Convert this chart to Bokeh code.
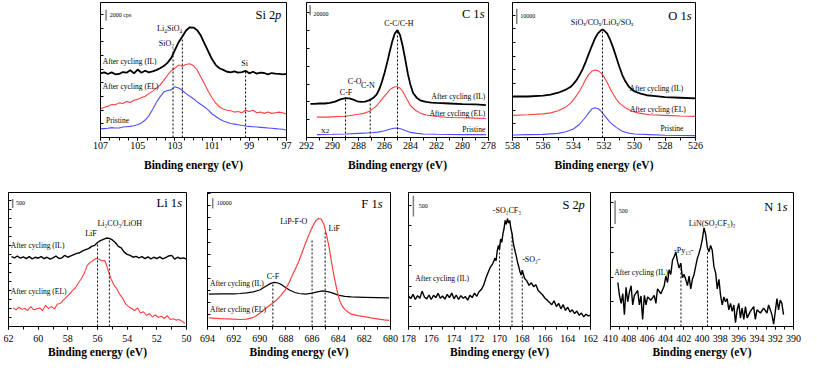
from bokeh.plotting import figure
from bokeh.layouts import column, row
from bokeh.models import Range1d, FixedTicker
from bokeh.core.properties import value
from bokeh.embed import file_html
from bokeh.resources import INLINE

FONT = "Liberation Serif"
BLACK = "#000000"
RED = "#ff4040"
BLUE = "#4f4fff"

# ---------------- data (binding energy in eV, intensity in arbitrary units) ----------------
SI_EV = [107.0, 106.8, 106.6, 106.4, 106.2, 106.0, 105.8, 105.6, 105.4, 105.2, 105.0, 104.8, 104.6,
         104.4, 104.2, 104.0, 103.8, 103.6, 103.4, 103.2, 103.0, 102.8, 102.6, 102.4, 102.2, 102.0,
         101.8, 101.6, 101.4, 101.2, 101.0, 100.8, 100.6, 100.4, 100.2, 100.0, 99.8, 99.6, 99.4,
         99.2, 99.0, 98.8, 98.6, 98.4, 98.2, 98.0, 97.8, 97.6, 97.4, 97.2, 97.0]
SI_IL = [202, 205, 200, 205, 199, 200, 206, 204, 212, 202, 214, 204, 210, 205, 208, 212, 218, 225,
         235, 250, 275, 300, 318, 337, 347, 346, 338, 320, 295, 270, 246, 228, 218, 213, 207, 205,
         208, 204, 206, 210, 202, 207, 201, 204, 203, 199, 203, 201, 200, 199, 200]
SI_EL = [90, 95, 98, 104, 103, 109, 107, 113, 110, 117, 120, 126, 130, 138, 146, 155, 165, 180, 196,
         210, 218, 228, 224, 230, 232, 226, 212, 190, 168, 145, 125, 108, 96, 90, 86, 84, 80, 82, 78,
         86, 82, 86, 78, 80, 76, 80, 76, 78, 80, 78, 73]
SI_PR = [28, 28, 29, 31, 30, 30, 33, 34, 35, 37, 40, 46, 55, 68, 88, 110, 128, 143, 148, 150, 160,
         156, 148, 138, 130, 122, 112, 104, 96, 86, 74, 66, 58, 52, 48, 44, 42, 40, 38, 36, 35, 34,
         33, 32, 31, 30, 29, 28, 27, 26, 23]
SI_PEAKS = [103.1, 102.6, 99.2]
SI_PEAK_TOPS = [280, 312, 208]

C_IL_EV = [291.7, 291.4, 291.0, 290.6, 290.2, 289.8, 289.4, 289.0, 288.7, 288.4, 288.1, 287.8, 287.5,
           287.2, 287.0, 286.8, 286.6, 286.4, 286.2, 286.0, 285.8, 285.6, 285.4, 285.2, 285.0, 284.8,
           284.6, 284.4, 284.2, 284.0, 283.8, 283.5, 283.2, 282.8, 282.4, 282.0, 281.0, 280.0, 279.0,
           278.2]
C_IL = [106, 106, 107, 107, 109, 113, 120, 124, 123, 119, 114, 112, 113, 117, 121, 127, 136, 152, 175,
        203, 235, 270, 303, 328, 338, 322, 288, 245, 200, 165, 140, 124, 116, 112, 110, 109, 107, 105,
        104, 102]
C_EL_EV = [291.2, 290.5, 290.0, 289.5, 289.0, 288.5, 288.0, 287.6, 287.2, 286.9, 286.6, 286.3, 286.0,
           285.8, 285.6, 285.4, 285.2, 285.0, 284.8, 284.6, 284.4, 284.2, 284.0, 283.6, 283.2, 282.8,
           282.0, 281.0, 280.0, 279.0, 278.2]
C_EL = [64, 64, 65, 66, 67, 70, 73, 76, 82, 90, 100, 115, 130, 140, 150, 156, 160, 160, 155, 145, 130,
        115, 100, 85, 76, 71, 66, 63, 62, 61, 60]
C_PR_EV = [291.2, 290.0, 289.0, 288.0, 287.0, 286.5, 286.0, 285.6, 285.3, 285.0, 284.7, 284.4, 284.0,
           283.5, 283.0, 282.0, 280.0, 278.2]
C_PR = [9, 10, 11, 13, 15, 17, 21, 26, 29, 30, 27, 22, 16, 13, 11, 10, 9, 9]
C_PEAKS = [289.0, 287.1, 285.0]
C_PEAK_TOPS = [126, 122, 336]

O_IL_EV = [538.0, 537.0, 536.0, 535.5, 535.0, 534.5, 534.2, 534.0, 533.8, 533.6, 533.4, 533.2, 533.0,
           532.8, 532.6, 532.4, 532.2, 532.1, 532.0, 531.8, 531.6, 531.4, 531.2, 531.0, 530.8, 530.6,
           530.4, 530.2, 530.0, 529.6, 529.2, 528.6, 528.0, 527.0, 526.0]
O_IL = [130, 130, 133, 136, 142, 152, 160, 170, 182, 198, 217, 240, 265, 290, 313, 330, 340, 342, 340,
        330, 310, 285, 255, 225, 198, 178, 163, 153, 146, 139, 134, 131, 128, 126, 124]
O_EL_EV = [538.0, 537.0, 536.0, 535.5, 535.0, 534.5, 534.2, 534.0, 533.8, 533.6, 533.4, 533.2, 533.0,
           532.8, 532.6, 532.4, 532.2, 532.0, 531.8, 531.6, 531.4, 531.2, 531.0, 530.6, 530.2, 529.8,
           529.0, 528.0, 527.0, 526.0]
O_EL = [70, 72, 75, 78, 85, 97, 108, 120, 133, 148, 165, 185, 200, 210, 214, 212, 205, 192, 175, 155,
        138, 122, 110, 94, 84, 78, 72, 70, 68, 67]
O_PR_EV = [538.0, 537.0, 536.0, 535.0, 534.5, 534.0, 533.6, 533.2, 533.0, 532.8, 532.6, 532.4, 532.2,
           532.0, 531.8, 531.6, 531.2, 530.8, 530.4, 530.0, 529.0, 528.0, 526.0]
O_PR = [8, 9, 10, 13, 18, 27, 42, 65, 78, 90, 94, 92, 84, 72, 60, 48, 32, 20, 14, 11, 9, 7, 6]
O_PEAKS = [532.1]
O_PEAK_TOPS = [342]

LI_IL_EV = [61.8, 61.6, 61.4, 61.2, 61.0, 60.8, 60.6, 60.4, 60.2, 60.0, 59.8, 59.6, 59.4, 59.2, 59.0,
            58.8, 58.6, 58.4, 58.2, 58.0, 57.8, 57.6, 57.4, 57.2, 57.0, 56.8, 56.6, 56.4, 56.2, 56.0,
            55.8, 55.6, 55.4, 55.2, 55.0, 54.8, 54.6, 54.4, 54.2, 54.0, 53.8, 53.6, 53.4, 53.2, 53.0,
            52.8, 52.6, 52.4, 52.2, 52.0, 51.8, 51.6, 51.4, 51.2, 51.0, 50.8, 50.6, 50.4, 50.2, 50.0]
LI_IL = [218, 214, 220, 213, 217, 212, 218, 211, 216, 213, 218, 212, 216, 210, 214, 220, 212, 214, 222,
         216, 220, 224, 228, 230, 236, 240, 243, 250, 253, 262, 268, 272, 276, 275, 270, 262, 250, 245,
         232, 225, 222, 216, 219, 214, 218, 212, 217, 211, 216, 212, 217, 211, 215, 220, 222, 210, 216,
         212, 214, 210]
LI_EL_EV = [61.7, 61.5, 61.3, 61.1, 60.9, 60.7, 60.5, 60.3, 60.1, 59.9, 59.7, 59.5, 59.3, 59.1, 58.9,
            58.7, 58.5, 58.3, 58.1, 57.9, 57.7, 57.5, 57.3, 57.1, 56.9, 56.7, 56.5, 56.3, 56.1, 55.9,
            55.7, 55.5, 55.3, 55.1, 54.9, 54.7, 54.5, 54.3, 54.1, 53.9, 53.7, 53.5, 53.3, 53.1, 52.9,
            52.7, 52.5, 52.3, 52.1, 51.9, 51.7, 51.5, 51.3, 51.1, 50.9, 50.7, 50.5, 50.3, 50.1]
LI_EL = [58, 52, 60, 54, 56, 50, 62, 52, 55, 58, 50, 66, 56, 62, 55, 70, 72, 82, 92, 100, 112, 120, 135,
         148, 165, 190, 200, 205, 212, 210, 205, 206, 178, 150, 130, 118, 100, 88, 70, 62, 56, 50, 58,
         42, 46, 35, 40, 30, 36, 28, 32, 25, 34, 22, 24, 20, 22, 16, 10]
LI_PEAKS = [56.0, 55.2]
LI_PEAK_TOPS = [256, 270]

F_IL_EV = [693.9, 693.0, 692.0, 691.5, 691.0, 690.5, 690.0, 689.6, 689.2, 688.9, 688.6, 688.3, 688.0,
           687.7, 687.3, 687.0, 686.5, 686.0, 685.6, 685.2, 684.8, 684.4, 684.0, 683.5, 683.0, 682.0,
           681.0, 680.1]
F_IL = [102, 103, 103, 104, 106, 109, 115, 125, 135, 139, 137, 131, 122, 114, 107, 104, 102, 105, 109,
        112, 110, 105, 99, 95, 93, 92, 91, 90]
F_EL_EV = [693.9, 693.0, 692.0, 691.5, 691.0, 690.6, 690.3, 690.0, 689.7, 689.4, 689.0, 688.7, 688.4,
           688.1, 687.8, 687.5, 687.2, 687.0, 686.7, 686.5, 686.3, 686.1, 685.9, 685.7, 685.5, 685.3,
           685.1, 684.9, 684.7, 684.5, 684.3, 684.1, 683.9, 683.7, 683.5, 683.2, 683.0, 682.5, 682.0,
           681.5, 681.0, 680.5, 680.1]
F_EL = [27, 25, 23, 22, 23, 27, 33, 42, 52, 62, 74, 84, 97, 112, 135, 162, 188, 207, 240, 262, 283, 302,
        320, 334, 340, 338, 322, 290, 250, 200, 155, 115, 82, 65, 54, 44, 39, 34, 31, 27, 24, 21, 19]
F_PEAKS = [689.0, 686.0, 685.0]
F_PEAK_TOPS = [137, 272, 302]

S_EV = [178.0, 177.8, 177.6, 177.4, 177.2, 177.0, 176.8, 176.6, 176.4, 176.2, 176.0, 175.8, 175.6,
        175.4, 175.2, 175.0, 174.8, 174.6, 174.4, 174.2, 174.0, 173.8, 173.6, 173.4, 173.2, 173.0,
        172.8, 172.6, 172.4, 172.2, 172.0, 171.8, 171.6, 171.4, 171.2, 171.0, 170.8, 170.6,
        170.4, 170.3, 170.2, 170.1, 170.0, 169.9, 169.8, 169.7, 169.6, 169.5, 169.4, 169.3, 169.2,
        169.1, 169.0, 168.9, 168.8, 168.7, 168.6, 168.5, 168.4, 168.3, 168.2, 168.1, 168.0,
        167.8, 167.6, 167.4, 167.2, 167.0, 166.8, 166.6, 166.4, 166.2, 166.0, 165.8, 165.6, 165.4,
        165.2, 165.0, 164.8, 164.6, 164.4, 164.2, 164.0, 163.8, 163.6, 163.4, 163.2, 163.0, 162.8,
        162.6, 162.4, 162.2, 162.0]
S_IL = [95, 87, 100, 84, 96, 88, 110, 92, 86, 98, 84, 97, 90, 103, 88, 95, 85, 100, 90, 104,
        86, 98, 84, 96, 88, 93, 82, 97, 90, 104, 94, 108, 115, 128, 150, 168, 185, 195,
        212, 205, 235, 252, 240, 272, 262, 288, 305, 330, 318, 336, 322, 330, 305, 290, 262, 245,
        230, 215, 198, 185, 170, 160, 175,
        150, 142, 128, 136, 124, 130, 112, 105, 98, 88, 82, 75, 68, 80, 62, 72, 55, 68, 50, 60, 45,
        52, 40, 48, 35, 42, 30, 38, 33, 35]
S_PEAKS = [170.0, 168.9, 168.0]
S_PEAK_TOPS = [257, 290, 175]

N_EV = [409.20, 409.02, 408.84, 408.66, 408.48, 408.30, 408.12, 407.93, 407.75, 407.57, 407.39,
        407.03, 406.85, 406.67, 406.49, 406.30, 406.12, 405.94, 405.58, 405.22, 405.04, 404.86,
        404.49, 404.13, 403.95, 403.77, 403.59, 403.41, 403.22, 403.04, 402.86, 402.68, 402.50,
        402.32, 402.14, 401.96, 401.78, 401.59, 401.41, 401.23, 401.05, 400.87, 400.69, 400.51,
        400.33, 400.14, 399.96, 399.78, 399.60, 399.42, 399.24, 399.06, 398.88, 398.70, 398.51,
        398.33, 398.15, 397.97, 397.79, 397.61, 397.43, 397.25, 397.07, 396.88, 396.70, 396.52,
        396.34, 396.16, 395.98, 395.80, 395.62, 395.43, 395.25, 395.07, 394.71, 394.35, 394.17,
        393.99, 393.62, 393.26, 392.90, 392.72, 392.54, 392.36, 392.17, 391.99, 391.81, 391.63,
        391.45, 391.27, 391.09]
N_IL = [137, 97, 72, 102, 37, 122, 77, 107, 127, 67, 97,
        112, 67, 95, 22, 97, 67, 92, 82, 97, 72, 117,
        102, 127, 157, 137, 177, 162, 207, 217, 232, 202, 182,
        197, 152, 162, 147, 127, 157, 117, 147, 162, 187, 212,
        227, 247, 272, 307, 287, 247, 232, 252, 237, 187, 167,
        117, 147, 97, 67, 92, 77, 87, 52, 72, 47, 67,
        12, 52, 72, 27, 57, 22, 62, 27, 47, 62, 22,
        52, 42, 57, 42, 67, 52, 37, 7, 47, 87, 52,
        82, 72, 37]
N_PEAKS = [402.3, 399.4]
N_PEAK_TOPS = [192, 232]

LBL_IL = "After cycling (IL)"
LBL_EL = "After cycling (EL)"
LBL_PR = "Pristine"


# ---------------- helpers ----------------
def make_panel(x0, x1, ymax, width, height, bl, br, bt, bb, major, minor, ystep,
               lab_standoff, title_standoff):
    p = figure(width=width, height=height, x_range=Range1d(x0, x1), y_range=Range1d(0, ymax),
               output_backend="svg", toolbar_location=None,
               min_border_left=bl, min_border_right=br, min_border_top=bt, min_border_bottom=bb,
               x_axis_label="Binding energy (eV)")
    p.xgrid.visible = False
    p.ygrid.visible = False
    p.outline_line_color = BLACK
    p.outline_line_width = 1
    p.outline_line_alpha = 1
    p.background_fill_color = "white"
    p.border_fill_color = "white"
    xa = p.xaxis[0]
    xa.ticker = FixedTicker(ticks=major, minor_ticks=minor)
    xa.major_tick_in = 0
    xa.major_tick_out = 3
    xa.minor_tick_in = 0
    xa.minor_tick_out = 3
    xa.axis_line_color = BLACK
    xa.major_tick_line_color = BLACK
    xa.minor_tick_line_color = BLACK
    xa.major_label_text_font = FONT
    xa.major_label_text_font_size = "10px"
    xa.major_label_text_color = BLACK
    xa.major_label_standoff = lab_standoff
    xa.axis_label_text_font = FONT
    xa.axis_label_text_font_size = "11.5px"
    xa.axis_label_text_font_style = "bold"
    xa.axis_label_text_color = BLACK
    xa.axis_label_standoff = title_standoff
    ya = p.yaxis[0]
    ya.ticker = FixedTicker(ticks=list(range(ystep, ymax, ystep)), minor_ticks=[])
    ya.major_tick_in = 3
    ya.major_tick_out = 0
    ya.minor_tick_in = 0
    ya.minor_tick_out = 0
    ya.major_label_text_font_size = "0px"
    ya.major_label_standoff = 0
    ya.axis_line_color = BLACK
    ya.major_tick_line_color = BLACK
    return p


def curve(p, x, y, color, lw):
    p.line(x=x, y=y, line_color=color, line_width=lw)


def dashes(p, xs, tops):
    p.segment(x0=xs, y0=[0] * len(xs), x1=xs, y1=tops, line_color=BLACK, line_width=1,
              line_dash="2 2")


def label(p, x, y, txt, size="7.5px", align="left", style="normal", xoff=0):
    p.text(x=[x], y=[y], text=[txt], text_font=value(FONT), text_font_size=size,
           text_align=align, text_baseline="middle", text_color=BLACK,
           text_font_style=style, x_offset=xoff)


def panel_label(p, x, y, main, ital, italw):
    label(p, x, y, ital, size="12.5px", align="right", style="italic")
    label(p, x, y, main, size="12.5px", align="right", xoff=-italw)


def scale_bar(p, x, y0, y1, txt, tx, ty):
    p.segment(x0=[x], y0=[y0], x1=[x], y1=[y1], line_color="#808080", line_width=1.5)
    label(p, tx, ty, txt, size="6px")


def ev_ticks(a, b, step):
    out = []
    v = a
    while v >= b - 1e-9:
        out.append(round(v, 2))
        v -= step
    return out


# ---------------- top row ----------------
si = make_panel(107, 97, 425, 296, 186, 100, 10, 2, 49, ev_ticks(107, 97, 2), ev_ticks(107, 97, 0.5),
                43, 1, 7)
curve(si, SI_EV, SI_IL, BLACK, 1.8)
curve(si, SI_EV, SI_EL, RED, 1.1)
curve(si, SI_EV, SI_PR, BLUE, 1.1)
dashes(si, SI_PEAKS, SI_PEAK_TOPS)
label(si, 103.28, 342, "Li₄SiO₄", size="8px", align="center")
label(si, 103.46, 297, "SiO₂", size="8px", align="center")
label(si, 99.25, 234, "Si", size="8px", align="center")
label(si, 106.88, 240, LBL_IL)
label(si, 106.88, 162, LBL_EL)
label(si, 106.7, 52, LBL_PR)
scale_bar(si, 106.7, 368, 402, "2000 cps", 106.5, 386)
panel_label(si, 97.28, 385, "Si 2", "p", 6)

c = make_panel(292, 278, 425, 202, 186, 10, 10, 2, 49, ev_ticks(292, 278, 2), ev_ticks(292, 278, 1),
               56, 1, 7)
curve(c, C_IL_EV, C_IL, BLACK, 1.8)
curve(c, C_EL_EV, C_EL, RED, 1.1)
curve(c, C_PR_EV, C_PR, BLUE, 1.1)
dashes(c, C_PEAKS, C_PEAK_TOPS)
label(c, 288.96, 142, "C-F", size="8px", align="center")
label(c, 288.29, 175, "C-O", size="8px", align="center")
label(c, 287.28, 165, "C-N", size="8px", align="center")
label(c, 284.9, 358, "C-C/C-H", size="8px", align="center")
label(c, 278.25, 130, LBL_IL, align="right")
label(c, 278.25, 75, LBL_EL, align="right")
label(c, 278.25, 25, LBL_PR, align="right")
label(c, 290.9, 22, "X2", size="7px")
scale_bar(c, 291.72, 385, 416, "20000", 291.47, 390)
panel_label(c, 278.3, 390, "C 1", "s", 5)

o = make_panel(538, 526, 428, 207, 186, 14, 10, 2, 49, ev_ticks(538, 526, 2), ev_ticks(538, 526, 1),
               43, 1, 7)
curve(o, O_IL_EV, O_IL, BLACK, 1.8)
curve(o, O_EL_EV, O_EL, RED, 1.1)
curve(o, O_PR_EV, O_PR, BLUE, 1.1)
dashes(o, O_PEAKS, O_PEAK_TOPS)
label(o, 532.13, 365, "SiOₓ/COₓ/LiOₓ/SOₓ", size="8px", align="center")
label(o, 526.8, 155, LBL_IL, align="right")
label(o, 526.64, 88, LBL_EL, align="right")
label(o, 526.8, 28, LBL_PR, align="right")
scale_bar(o, 537.72, 360, 408, "10000", 537.5, 386)
panel_label(o, 526.25, 385, "O 1", "s", 5)

# ---------------- bottom row ----------------
li = make_panel(62, 50, 418, 196, 178, 8, 10, 6, 38, ev_ticks(62, 50, 2), ev_ticks(62, 50, 1),
                28, 5, 1)
curve(li, LI_IL_EV, LI_IL, BLACK, 1.4)
curve(li, LI_EL_EV, LI_EL, RED, 1.1)
dashes(li, LI_PEAKS, LI_PEAK_TOPS)
label(li, 56.44, 291, "LiF", size="8px", align="center")
label(li, 54.5, 320, "Li₂CO₃/LiOH", size="8px", align="center")
label(li, 61.85, 253, LBL_IL)
label(li, 61.85, 110, LBL_EL)
scale_bar(li, 61.72, 370, 398, "500", 61.5, 386)
panel_label(li, 50.3, 386, "Li 1", "s", 5)

f = make_panel(694, 680, 422, 202, 178, 11, 8, 6, 38, ev_ticks(694, 680, 2), ev_ticks(694, 680, 1),
               38, 5, 1)
curve(f, F_IL_EV, F_IL, BLACK, 1.2)
curve(f, F_EL_EV, F_EL, RED, 1.2)
dashes(f, F_PEAKS, F_PEAK_TOPS)
label(f, 689.0, 157, "C-F", size="8px", align="center")
label(f, 687.4, 330, "LiP-F-O", size="8px", align="center")
label(f, 684.3, 310, "LiF", size="8px", align="center")
label(f, 693.8, 134, LBL_IL)
label(f, 693.8, 54, LBL_EL)
scale_bar(f, 693.6, 372, 404, "10000", 693.3, 390)
panel_label(f, 680.6, 387, "F 1", "s", 5)

s = make_panel(178, 162, 417, 202, 178, 10, 10, 6, 38, ev_ticks(178, 162, 2), ev_ticks(178, 162, 1),
               63, 5, 1)
curve(s, S_EV, S_IL, BLACK, 1.4)
dashes(s, S_PEAKS, S_PEAK_TOPS)
label(s, 169.35, 362, "-SO₂CF₃", size="8px", align="center")
label(s, 167.2, 207, "-SO₂-", size="8px", align="center")
label(s, 177.4, 149, LBL_IL)
scale_bar(s, 177.57, 342, 407, "500", 177.1, 376)
panel_label(s, 162.5, 377, "S 2", "p", 6)

n = make_panel(410, 390, 417, 201, 178, 10, 8, 6, 38, ev_ticks(410, 390, 2), ev_ticks(410, 390, 1),
               77, 5, 1)
curve(n, N_EV, N_IL, BLACK, 1.4)
dashes(n, N_PEAKS, N_PEAK_TOPS)
label(n, 402.0, 235, "-Py₁₃-", size="8px", align="center")
label(n, 398.9, 319, "LiN(SO₂CF₃)₂", size="8px", align="center")
label(n, 409.6, 169, LBL_IL)
scale_bar(n, 409.5, 319, 392, "500", 409.1, 359)
panel_label(n, 390.65, 372, "N 1", "s", 5)

layout = column(row(si, c, o), row(li, f, s, n))
open("out.html", "w").write(file_html(layout, INLINE))
